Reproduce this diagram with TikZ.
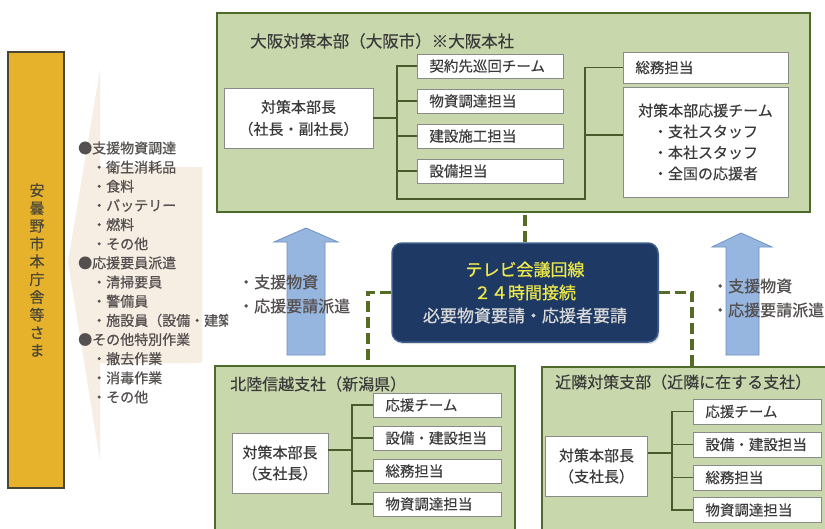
\documentclass[tikz,border=0pt]{standalone}
\usepackage{fontspec}
\newfontfamily\jp[FakeBold=0.25]{Noto Sans CJK JP}
\newfontfamily\jpb[FakeBold=0.7]{Noto Sans CJK JP}
\usetikzlibrary{shadows}
\newcommand\myfs[2]{\fontsize{#1}{#2}\selectfont}
\definecolor{boxgreen}{HTML}{C8D7AC}
\definecolor{boxborder}{HTML}{4F6B2C}
\definecolor{linecol}{HTML}{4A5A2A}
\definecolor{dashcol}{HTML}{566B26}
\definecolor{navy}{HTML}{1E3A64}
\definecolor{navyedge}{HTML}{3C5C8C}
\definecolor{yel}{HTML}{EEE84A}
\definecolor{lgray}{HTML}{D8D8D8}
\definecolor{gold}{HTML}{E6B22C}
\definecolor{goldedge}{HTML}{4A4636}
\definecolor{beige}{HTML}{F6EDE3}
\definecolor{arrowblue}{HTML}{97B6DF}
\definecolor{arrowedge}{HTML}{6E90C4}
\definecolor{txt}{HTML}{3A3A3A}
\definecolor{graytxt}{HTML}{555050}
\definecolor{inedge}{HTML}{8A8A8A}
\begin{document}
\begin{tikzpicture}[x=1pt,y=-1pt,
  bigbox/.style={draw=boxborder, line width=2.5pt, fill=boxgreen, inner sep=0pt},
  bossbox/.style={draw=inedge, line width=0.8pt, fill=white, inner sep=0pt, align=center, font=\jp\myfs{15}{22}, text=txt},
  itembox/.style={draw=inedge, line width=0.8pt, fill=white, anchor=west, inner xsep=12pt, inner ysep=0pt, align=left, font=\jp\myfs{14.5}{18}, text=txt},
  conn/.style={draw=linecol, line width=1.1pt},
  dashline/.style={draw=dashcol, line width=3.5pt, dash pattern=on 11pt off 5pt},
  boxtitle/.style={anchor=west, font=\jp\myfs{16}{20}, text=txt, inner sep=0pt},
  listtext/.style={anchor=west, font=\jpb\myfs{14}{18}, text=graytxt, inner sep=0pt},
  arrowtext/.style={anchor=west, font=\jpb\myfs{16}{20}, text=graytxt, inner sep=0pt},
  bluearrow/.style={fill=arrowblue, draw=arrowedge, line width=0.8pt}
]
\clip (0,0) rectangle (825,528);
\fill[white] (0,0) rectangle (825,528);

% left gold box
\node[draw=goldedge, line width=1.2pt, fill=gold, minimum width=56pt, minimum height=436pt, inner sep=0pt] (gold) at (36,270) {};
\node[font=\jp\myfs{15}{17.8}, text=goldedge, align=center, inner sep=0pt] (goldtxt) at (37,270) {安\\曇\\野\\市\\本\\庁\\舎\\等\\さ\\ま};

% beige arrow shape
\fill[beige] (100,70) -- (68,262) -- (100,460) -- (100,363) -- (202,363) -- (202,167) -- (100,167) -- cycle;

% list
\foreach \yy/\xx/\lbl [count=\i] in {148/78/●支援物資調達, 167.2/92/・衛生消耗品, 186.3/92/・食料, 205.5/92/・バッテリー, 224.6/92/・燃料, 243.8/92/・その他, 262.9/78/●応援要員派遣, 282.1/92/・清掃要員, 301.2/92/・警備員, 339.5/78/●その他特別作業, 358.7/92/・撤去作業, 377.8/92/・消毒作業, 397/92/・その他}
  \node[listtext] (li\i) at (\xx,\yy) {\lbl};
\begin{scope}
\clip (80,310) rectangle (228,332);
\node[listtext] (lisetsu) at (92,320.4) {・施設員（設備・建築};
\end{scope}

% Osaka box
\node[bigbox, minimum width=593pt, minimum height=199pt] (osaka) at (513.5,112.5) {};
\node[boxtitle, font=\jp\myfs{16.5}{20}] (osakat) at (250,41) {大阪対策本部（大阪市）※大阪本社};
\node[bossbox, minimum width=149pt, minimum height=60pt] (oboss) at (298.5,118) {対策本部長\\（社長・副社長）};
\node[itembox, text width=122pt, minimum height=24pt] (o1) at (417,66) {契約先巡回チーム};
\node[itembox, text width=122pt, minimum height=24pt] (o2) at (417,101) {物資調達担当};
\node[itembox, text width=122pt, minimum height=24pt] (o3) at (417,136) {建設施工担当};
\node[itembox, text width=122pt, minimum height=24pt] (o4) at (417,171) {設備担当};
\node[itembox, text width=141pt, minimum height=31pt] (os1) at (623,67.5) {総務担当};
\node[bossbox, minimum width=165pt, minimum height=110pt, font=\jp\myfs{15}{21}] (os2) at (705.5,142) {対策本部応援チーム\\・支社スタッフ\\・本社スタッフ\\・全国の応援者};
\coordinate (obl) at (397,199);
\coordinate (obr) at (585,199);
\draw[conn] (o1.west) -- (o1.west -| obl) -- (obl) -- (obr) -- (obr |- os1.west) -- (os1.west);
\draw[conn] (o2.west) -- (o2.west -| obl);
\draw[conn] (o3.west) -- (o3.west -| obl);
\draw[conn] (o4.west) -- (o4.west -| obl);
\draw[conn] (oboss.east) -- (oboss.east -| obl);
\draw[conn] ([yshift=7pt]os2.west) -- ([yshift=7pt]os2.west -| obr);

% blue arrows
\draw[bluearrow] (287,355) -- (287,242) -- (274,242) -- (306,228) -- (338,242) -- (325,242) -- (325,355) -- cycle;
\draw[bluearrow] (726,355) -- (726,247) -- (712,247) -- (741,233) -- (772,247) -- (759,247) -- (759,355) -- cycle;
\node[arrowtext] (al1) at (238,282) {・支援物資};
\node[arrowtext] (al2) at (238,306) {・応援要請派遣};
\node[arrowtext] (ar1) at (712,286) {・支援物資};
\node[arrowtext] (ar2) at (712,310) {・応援要請派遣};

% Hokuriku box
\node[bigbox, minimum width=300pt, minimum height=194pt] (hok) at (365,463) {};
\node[boxtitle] (hokt) at (230,384) {北陸信越支社（新潟県）};
\node[bossbox, minimum width=96pt, minimum height=60pt, font=\jp\myfs{15}{21}] (hboss) at (280,463) {対策本部長\\（支社長）};
\node[itembox, text width=104pt, minimum height=24pt] (h1) at (373,405) {応援チーム};
\node[itembox, text width=104pt, minimum height=24pt] (h2) at (373,438) {設備・建設担当};
\node[itembox, text width=104pt, minimum height=24pt] (h3) at (373,471) {総務担当};
\node[itembox, text width=104pt, minimum height=24pt] (h4) at (373,504) {物資調達担当};
\coordinate (hb) at (352,0);
\draw[conn] (h1.west) -- (h1.west -| hb) -- (h4.west -| hb) -- (h4.west);
\draw[conn] (h2.west) -- (h2.west -| hb);
\draw[conn] (h3.west) -- (h3.west -| hb);
\draw[conn] ([yshift=13pt]hboss.east) -- ([yshift=13pt]hboss.east -| hb);

% Kinrin box
\node[bigbox, minimum width=298pt, minimum height=193pt] (kin) at (691,463.5) {};
\node[boxtitle] (kint) at (555,382) {近隣対策支部（近隣に在する支社）};
\node[bossbox, minimum width=102pt, minimum height=60pt, font=\jp\myfs{15}{21}] (kboss) at (596.5,466) {対策本部長\\（支社長）};
\node[itembox, text width=104pt, minimum height=25pt] (k1) at (693,411.5) {応援チーム};
\node[itembox, text width=104pt, minimum height=25pt] (k2) at (693,444.5) {設備・建設担当};
\node[itembox, text width=104pt, minimum height=25pt] (k3) at (693,477.5) {総務担当};
\node[itembox, text width=104pt, minimum height=25pt] (k4) at (693,510) {物資調達担当};
\coordinate (kb) at (672,0);
\draw[conn] (k1.west) -- (k1.west -| kb) -- (k4.west -| kb) -- (k4.west);
\draw[conn] (k2.west) -- (k2.west -| kb);
\draw[conn] (k3.west) -- (k3.west -| kb);
\draw[conn] ([yshift=13pt]kboss.east) -- ([yshift=13pt]kboss.east -| kb);

% TV conference box
\node[rounded corners=10pt, fill=navy, draw=navyedge, line width=1.5pt, minimum width=266pt, minimum height=99pt, align=center, inner sep=0pt, font=\jpb\myfs{17}{23}, drop shadow={opacity=0.25, shadow xshift=1.5pt, shadow yshift=-2pt}] (tv) at (525,292.5)
  {{\color{yel}テレビ会議回線}\\{\color{yel}２４時間接続}\\{\color{lgray}必要物資要請・応援者要請}};
\coordinate (hdash) at (368,366);
\coordinate (kdash) at (692,367);
\draw[dashline] (tv.north) -- (tv.north |- osaka.south);
\draw[dashline] (tv.west) -| (hdash);
\draw[dashline] (tv.east) -| (kdash);
\end{tikzpicture}
\end{document}
